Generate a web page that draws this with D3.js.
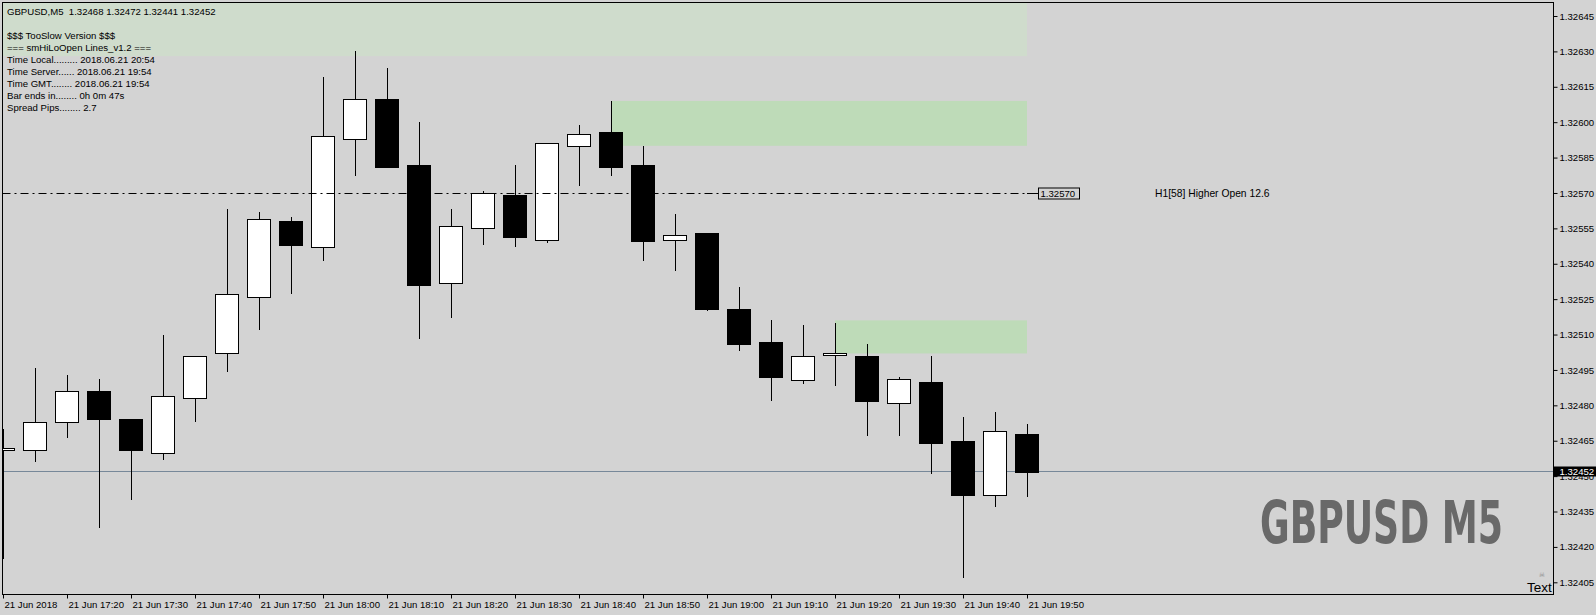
<!DOCTYPE html>
<html lang="en">
<head>
<meta charset="utf-8">
<title>GBPUSD M5</title>
<script src="https://d3js.org/d3.v7.min.js"></script>
<style>
  body { margin: 0; background: #d3d3d3; }
  svg text { font-family: "Liberation Sans", Arial, sans-serif; font-size: 9.6px; fill: #000; }
</style>
</head>
<body>
<div id="main"></div>
<script>
var width = 1596, height = 615;

// candles, 5 minute bars on 21 Jun 2018
var times = ["17:10","17:15","17:20","17:25","17:30","17:35","17:40","17:45","17:50","17:55",
             "18:00","18:05","18:10","18:15","18:20","18:25","18:30","18:35","18:40","18:45",
             "18:50","18:55","19:00","19:05","19:10","19:15","19:20","19:25","19:30","19:35",
             "19:40","19:45","19:50"];
var opens  = [1.32461,1.32461,1.32473,1.32486,1.32474,1.32460,1.32483,1.32502,1.32526,1.32558,
              1.32547,1.32593,1.32610,1.32582,1.32532,1.32555,1.32569,1.32550,1.32590,1.32596,
              1.32582,1.32550,1.32553,1.32521,1.32507,1.32491,1.32501,1.32501,1.32481,1.32490,
              1.32465,1.32442,1.32468];
var highs  = [1.32470,1.32496,1.32493,1.32491,1.32474,1.32510,1.32501,1.32563,1.32562,1.32560,
              1.32619,1.32630,1.32623,1.32600,1.32563,1.32571,1.32582,1.32591,1.32599,1.32609,
              1.32590,1.32561,1.32553,1.32530,1.32516,1.32514,1.32515,1.32506,1.32492,1.32501,
              1.32475,1.32477,1.32472];
var lows   = [1.32415,1.32456,1.32466,1.32428,1.32440,1.32457,1.32473,1.32494,1.32512,1.32527,
              1.32541,1.32577,1.32581,1.32508,1.32517,1.32548,1.32547,1.32549,1.32573,1.32577,
              1.32541,1.32537,1.32520,1.32503,1.32482,1.32489,1.32488,1.32467,1.32467,1.32451,
              1.32407,1.32437,1.32441];
var closes = [1.32462,1.32473,1.32486,1.32474,1.32461,1.32484,1.32501,1.32527,1.32559,1.32548,
              1.32594,1.32610,1.32581,1.32531,1.32556,1.32570,1.32551,1.32591,1.32595,1.32581,
              1.32550,1.32552,1.32521,1.32506,1.32492,1.32501,1.32502,1.32482,1.32491,1.32464,
              1.32442,1.32469,1.32452];

// hi/lo zones
var zoneStart  = ["17:10","18:45","19:20"];
var zoneTop    = [1.32660,1.32609,1.32516];
var zoneBottom = [1.32628,1.32590,1.32502];
var zoneColor  = ["#cfdccc","#bedbb8","#bedbb8"];

var h1Open = 1.32570;
var h1Text = "H1[58] Higher Open 12.6";
var lastPrice = 1.32452;

var yTicks = [1.32405,1.32420,1.32435,1.32450,1.32465,1.32480,1.32495,1.32510,1.32525,
              1.32540,1.32555,1.32570,1.32585,1.32600,1.32615,1.32630,1.32645];
var xTicks = ["17:10","17:20","17:30","17:40","17:50","18:00","18:10","18:20","18:30",
              "18:40","18:50","19:00","19:10","19:20","19:30","19:40","19:50"];
var xTickLabels = ["21 Jun 2018","21 Jun 17:20","21 Jun 17:30","21 Jun 17:40","21 Jun 17:50",
              "21 Jun 18:00","21 Jun 18:10","21 Jun 18:20","21 Jun 18:30","21 Jun 18:40",
              "21 Jun 18:50","21 Jun 19:00","21 Jun 19:10","21 Jun 19:20","21 Jun 19:30",
              "21 Jun 19:40","21 Jun 19:50"];

var infoLines = ["GBPUSD,M5  1.32468 1.32472 1.32441 1.32452",
                 "",
                 "$$$ TooSlow Version $$$",
                 "=== smHiLoOpen Lines_v1.2 ===",
                 "Time Local......... 2018.06.21 20:54",
                 "Time Server...... 2018.06.21 19:54",
                 "Time GMT........ 2018.06.21 19:54",
                 "Bar ends in........ 0h 0m 47s",
                 "Spread Pips........ 2.7"];

var parse = d3.timeParse("%Y-%m-%d %H:%M");
function t(s) { return parse("2018-06-21 " + s); }

var pL = 2.5, pT = 2.5, pR = 1553.5, pB = 594.5;

var x = d3.scaleTime().domain([t("17:10"), t("19:50")]).range([3, 1027]);
var y = d3.scaleLinear().domain([1.32405, 1.32645]).range([582.3, 16]);

var svg = d3.select("#main").append("svg")
    .attr("width", width).attr("height", height);

svg.append("rect").attr("width", width).attr("height", height).attr("fill", "#d3d3d3");

svg.append("clipPath").attr("id", "plot")
  .append("rect").attr("x", pL).attr("y", pT)
  .attr("width", pR - pL).attr("height", pB - pT);

var plot = svg.append("g").attr("clip-path", "url(#plot)");

// zones
plot.selectAll("rect.zone")
  .data(zoneStart)
  .enter().append("rect")
    .attr("class", "zone")
    .attr("x", function(d, i) { return i == 0 ? 0 : x(t(d)); })
    .attr("y", function(d, i) { return y(zoneTop[i]); })
    .attr("width", function(d, i) { return x(t("19:50")) - (i == 0 ? 0 : x(t(d))); })
    .attr("height", function(d, i) { return y(zoneBottom[i]) - y(zoneTop[i]); })
    .attr("fill", function(d, i) { return zoneColor[i]; });

// last price line (behind candles)
plot.append("line")
  .attr("x1", pL).attr("x2", pR)
  .attr("y1", Math.round(y(lastPrice)) + 0.5).attr("y2", Math.round(y(lastPrice)) + 0.5)
  .attr("stroke", "#778899");

// candles
var candles = plot.selectAll("g.candle")
  .data(times)
  .enter().append("g").attr("class", "candle")
  .attr("shape-rendering", "crispEdges");

candles.append("line")
  .attr("x1", function(d) { return Math.round(x(t(d))) + 0.5; })
  .attr("x2", function(d) { return Math.round(x(t(d))) + 0.5; })
  .attr("y1", function(d, i) { return y(highs[i]); })
  .attr("y2", function(d, i) { return y(lows[i]); })
  .attr("stroke", "#000");

candles.append("rect")
  .attr("x", function(d) { return Math.round(x(t(d))) - 12 + 0.5; })
  .attr("width", 23)
  .attr("y", function(d, i) { return Math.round(y(Math.max(opens[i], closes[i]))) + 0.5; })
  .attr("height", function(d, i) {
    return Math.max(2, Math.round(y(Math.min(opens[i], closes[i])) - y(Math.max(opens[i], closes[i]))));
  })
  .attr("fill", function(d, i) { return closes[i] >= opens[i] ? "#fff" : "#000"; })
  .attr("stroke", "#000");

// H1 open line (dash dot)
var yh = Math.round(y(h1Open)) + 0.5;
plot.append("line")
  .attr("x1", pL).attr("x2", x(t("19:50")))
  .attr("y1", yh).attr("y2", yh)
  .attr("stroke", "#000")
  .attr("stroke-dasharray", "8,4,2,4");
svg.append("line")
  .attr("x1", x(t("19:50"))).attr("x2", 1038.5)
  .attr("y1", yh).attr("y2", yh)
  .attr("stroke", "#000");
svg.append("rect")
  .attr("x", 1038.5).attr("y", yh - 5.5)
  .attr("width", 41).attr("height", 11)
  .attr("fill", "none").attr("stroke", "#000");
svg.append("text")
  .attr("x", 1040.5).attr("y", yh + 3.5)
  .text(d3.format(".5f")(h1Open));
svg.append("text")
  .attr("x", 1155).attr("y", yh + 3.5)
  .style("font-size", "10.3px")
  .text(h1Text);

// info text
svg.append("g").selectAll("text")
  .data(infoLines)
  .enter().append("text")
    .attr("x", 7)
    .attr("y", function(d, i) { return 14.5 + i * 12; })
    .style("white-space", "pre")
    .text(function(d) { return d; });

// watermark, squeezed to the width it has in the terminal
var wm = svg.append("text")
  .style("font-family", "'DejaVu Sans Condensed', 'DejaVu Sans', sans-serif")
  .style("font-weight", "bold")
  .style("font-stretch", "condensed")
  .style("font-size", "59px")
  .style("fill", "#696969")
  .text("GBPUSD M5");
var wmW = wm.node().getComputedTextLength();
wm.attr("transform", "translate(1260,543) scale(" + (243 / wmW) + ",1)");

svg.append("text")
  .attr("x", 1542).attr("y", 577)
  .attr("text-anchor", "middle")
  .style("font-family", "'DejaVu Sans', sans-serif")
  .style("font-size", "7px")
  .style("fill", "#8a8a8a")
  .text("\u2620");
svg.append("text")
  .attr("x", 1527).attr("y", 592)
  .style("font-size", "13.5px")
  .text("Text");

// frame
svg.append("rect")
  .attr("x", pL).attr("y", pT)
  .attr("width", pR - pL).attr("height", pB - pT)
  .attr("fill", "none").attr("stroke", "#000");

// y axis
var yAxis = svg.append("g")
  .attr("transform", "translate(" + pR + ",0)")
  .call(d3.axisRight(y).tickValues(yTicks).tickSize(4).tickPadding(2).tickFormat(d3.format(".5f")));
yAxis.select(".domain").remove();
yAxis.selectAll("text").attr("font-size", null).attr("font-family", null);

// x axis
var xAxis = svg.append("g")
  .attr("transform", "translate(0," + pB + ")")
  .call(d3.axisBottom(x).tickValues(xTicks.map(t)).tickSize(4).tickPadding(3)
        .tickFormat(function(d, i) { return xTickLabels[i]; }));
xAxis.select(".domain").remove();
xAxis.selectAll("text").attr("text-anchor", "start").attr("x", 1)
  .attr("font-size", null).attr("font-family", null);

// last price label
var yl = y(lastPrice);
svg.append("rect")
  .attr("x", pR).attr("y", Math.round(yl) - 4.5)
  .attr("width", width - pR).attr("height", 10)
  .attr("fill", "#000");
svg.append("text")
  .attr("x", pR + 6).attr("y", Math.round(yl) + 4)
  .style("fill", "#fff")
  .text(d3.format(".5f")(lastPrice));
</script>
</body>
</html>
